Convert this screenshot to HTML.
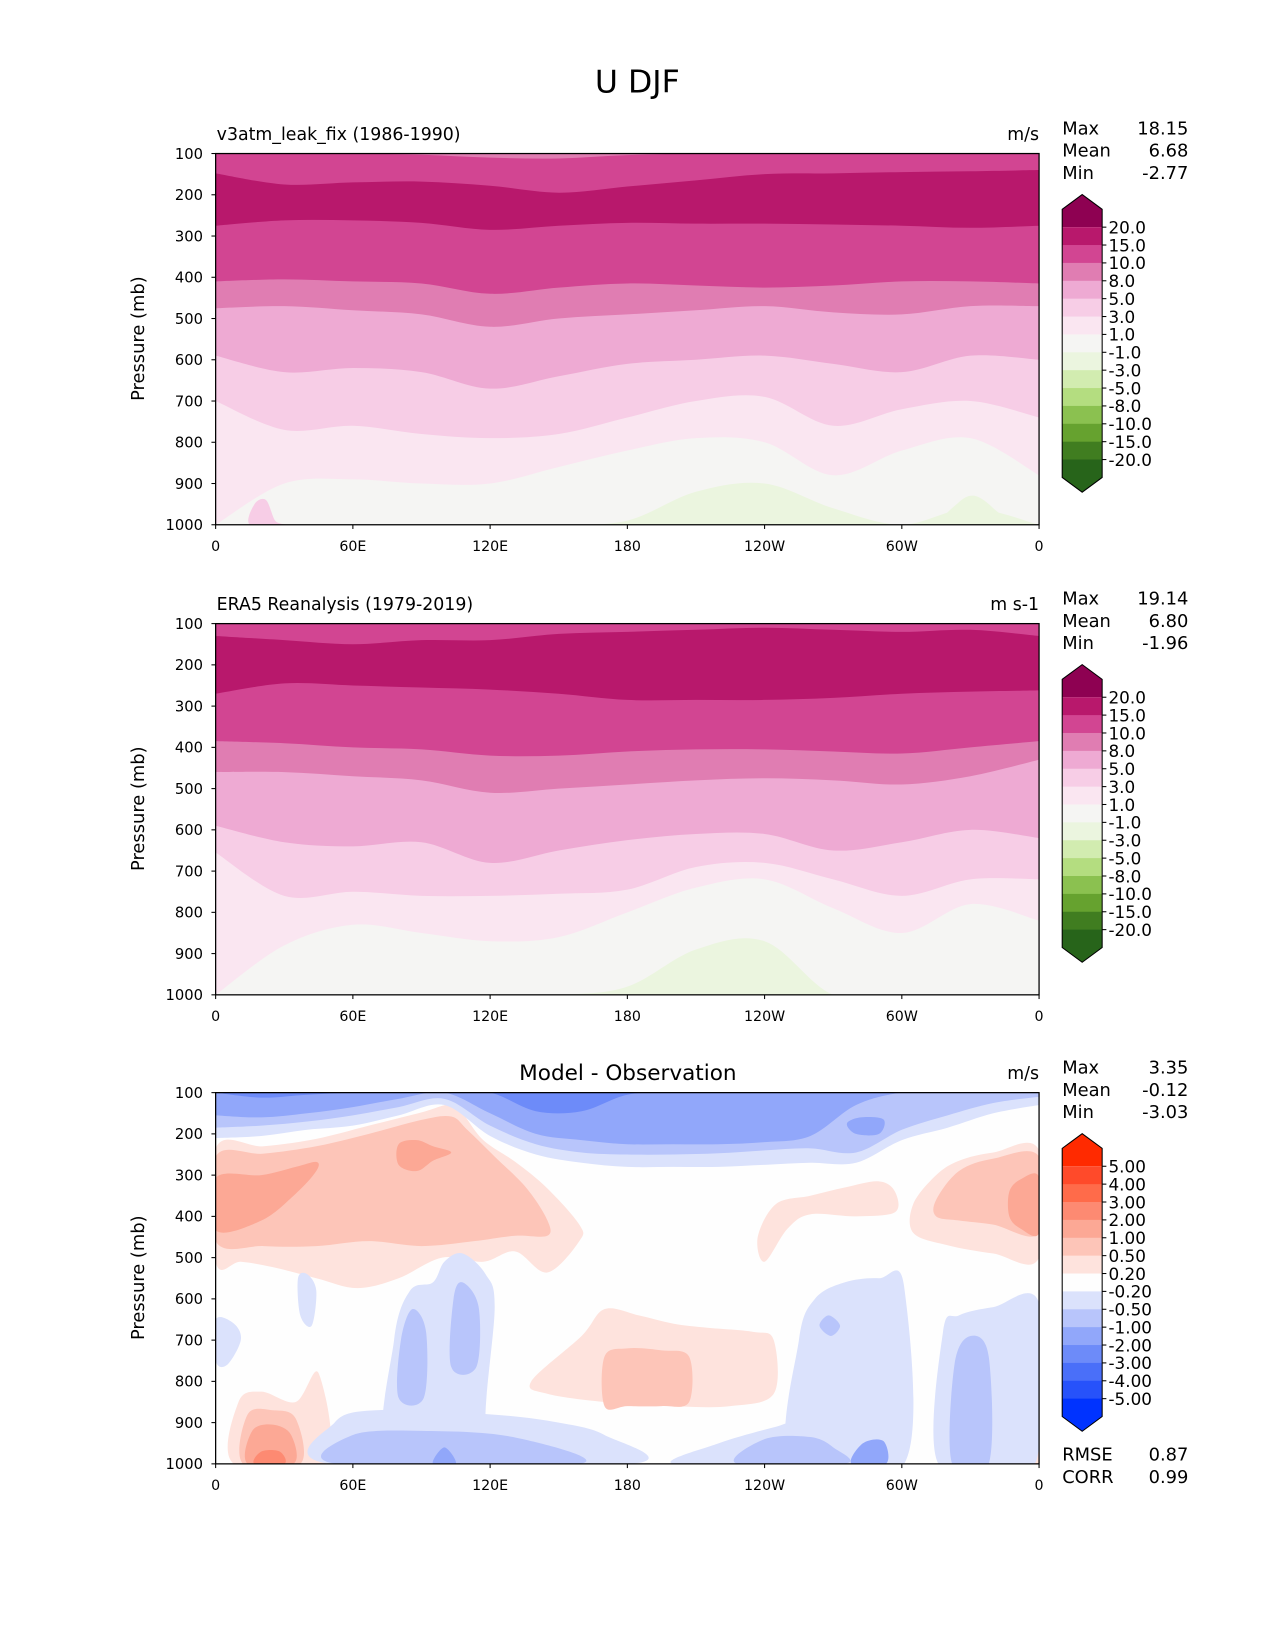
<!DOCTYPE html>
<html><head><meta charset="utf-8"><style>
html,body{margin:0;padding:0;background:#fff}
svg{display:block;font-family:"DejaVu Sans","Liberation Sans",sans-serif}
</style></head><body>
<svg id="fig" xmlns="http://www.w3.org/2000/svg" width="1275" height="1650" viewBox="0 0 1212.3 1569">
<rect x="0" y="0" width="1212.3" height="1569" fill="#fff"/>
<text x="606" y="88" font-size="30" text-anchor="middle">U DJF</text>
<g id="p1"></g>
<g id="p2"></g>
<g id="p3"></g>
</svg>
<script>
// ---------- data ----------
const LONS=[0,30,60,90,120,150,180,210,240,270,300,330,360];
const XTICKS=[0,60,120,180,240,300,360];
const XLABELS=["0","60E","120E","180","120W","60W","0"];
const PTICKS=[100,200,300,400,500,600,700,800,900,1000];
const FULL_COLORS=["#8e0152","#b8186c","#d24592","#e07db2","#eeaad3","#f7cde6","#fae6f1","#f5f5f3","#ebf5df","#d2ecb0","#b4dd80","#8bc150","#66a22f","#407d20","#27641a"];
const FULL_LABELS=["20.0","15.0","10.0","8.0","5.0","3.0","1.0","-1.0","-3.0","-5.0","-8.0","-10.0","-15.0","-20.0"];
const DIFF_COLORS=["#ff2a00","#ff4a2a","#ff6b4a","#fd8a72","#fca895","#fdc5b8","#fee3dd","#fefefe","#dbe2fc","#b8c5fb","#91a7fa","#6d8bf9","#4a6ff9","#2752fa","#0033ff"];
const DIFF_LABELS=["5.00","4.00","3.00","2.00","1.00","0.50","0.20","-0.20","-0.50","-1.00","-2.00","-3.00","-4.00","-5.00"];
// model panel: pressure of contour boundaries at LONS
const m_cap=[100,100,100,103,110,112,104,100,100,100,100,100,100];
const m_b15=[148,175,170,168,178,195,180,165,150,148,145,143,140];
const m_b10=[275,262,262,268,285,275,268,270,270,272,275,280,275];
const m_b8=[410,405,410,415,440,425,415,420,425,420,410,410,415];
const m_b5=[475,470,480,490,520,500,490,480,470,485,490,470,470];
const m_b3=[590,630,620,630,670,640,610,600,590,610,630,590,600];
const m_b1=[700,770,760,780,790,780,740,700,690,760,720,700,740];
const m_bm1=[1000,900,890,900,900,860,820,790,800,880,820,790,880];
const m_bm3=[1000,1000,1000,1000,1000,1000,990,920,900,960,1000,960,1000];
// obs panel
const e_b15=[130,140,150,140,140,125,120,115,110,115,120,115,130];
const e_b10=[270,245,250,255,260,270,285,285,285,280,270,265,262];
const e_b8=[385,390,400,405,420,420,410,405,405,410,415,400,385];
const e_b5=[460,460,470,480,510,500,490,480,475,480,490,470,430];
const e_b3=[590,630,640,630,680,650,625,610,610,650,630,600,620];
const e_b1=[655,760,750,760,760,755,745,690,680,720,760,720,720];
const e_bm1=[1000,880,830,850,870,860,800,740,720,790,850,780,820];
const e_bm3=[1000,1000,1000,1000,1000,1000,980,890,870,1000,1000,1000,1000];
// diff panel upper blue layer boundaries
const D_LONS=[0,20,40,60,80,100,120,140,160,180,200,220,240,260,280,300,320,340,360];
const d_b02=[210,205,190,180,155,130,205,250,270,280,280,280,275,270,270,215,185,150,130];
const d_b05=[185,180,170,155,135,115,180,225,245,250,250,247,240,235,245,190,155,125,110];
const d_b1=[155,160,150,135,115,100,150,200,215,225,225,225,220,205,130,100,100,100,100];
const d_b2=[100,112,105,100,100,100,100,145,145,105,100,100,100,100,100,100,100,100,100];
// diff blobs [lon, p]
const red02_a=[[0,235],[21,230],[44,212],[67,180],[90,148],[103,128],[108,150],[117,215],[131,268],[145,332],[159,420],[159,460],[145,536],[131,485],[117,510],[99,500],[80,550],[62,574],[44,550],[25,523],[11,510],[0,510]];
const red05_a=[[0,255],[21,248],[44,230],[67,200],[90,166],[103,158],[110,190],[122,255],[136,332],[145,409],[145,447],[131,447],[113,460],[90,472],[67,460],[44,472],[21,472],[0,460]];
const red1_a=[[0,307],[20,300],[35,280],[44,268],[44,290],[35,345],[20,410],[0,434]];
const red1_b=[[80,225],[88,215],[95,230],[103,245],[95,265],[88,290],[80,275]];
const red02_r=[[305,370],[315,300],[325,265],[340,245],[360,240],[360,500],[340,490],[320,470],[305,440]];
const red05_r=[[315,360],[325,290],[340,260],[360,255],[360,440],[340,420],[325,410],[315,400]];
const red1_r=[[347,340],[352,310],[360,305],[360,440],[352,430],[347,400]];
const red02_m=[[237,450],[245,370],[260,350],[275,330],[290,315],[297,340],[297,390],[280,400],[260,395],[250,430],[240,510]];
const red02_l=[[138,800],[160,690],[170,625],[185,640],[200,660],[215,670],[235,680],[244,700],[244,830],[225,860],[200,860],[170,850],[145,830]];
const red05_l=[[170,740],[180,720],[195,725],[207,740],[207,850],[195,860],[180,860],[170,860]];
const red02_s=[[8,1000],[10,850],[20,825],[35,850],[45,780],[48,1000]];
const red05_s=[[12,1000],[14,880],[25,870],[35,890],[37,1000]];
const red1_s=[[14,1000],[16,920],[25,905],[33,930],[34,1000]];
const red2_s=[[17,1000],[20,970],[28,970],[30,1000]];
const red02_e=[[347,1000],[350,960],[360,945],[360,1000]];
const blu02_a=[[76,1000],[78,700],[85,580],[95,560],[100,510],[108,490],[118,540],[122,620],[118,900],[125,1000]];
const blu02_b=[[50,1000],[52,900],[70,870],[120,880],[150,900],[170,930],[182,1000]];
const blu02_c=[[36,550],[40,540],[44,580],[42,665],[37,640]];
const blu02_d=[[252,1000],[255,700],[262,600],[275,560],[290,550],[301,570],[301,1000]];
const blu02_e=[[200,1000],[220,950],[245,910],[255,900],[255,1000]];
const blu02_f=[[316,1000],[318,680],[325,640],[340,620],[360,610],[360,960],[350,1000]];
const blu02_g=[[0,650],[8,660],[11,700],[5,760],[0,750]];
const blu05_a=[[80,840],[81,700],[86,625],[92,680],[91,840]];
const blu05_b=[[103,765],[104,600],[108,560],[115,620],[114,765]];
const blu05_c=[[322,1000],[323,760],[330,690],[338,740],[338,1000]];
const blu05_d=[[264,665],[268,640],[273,665],[269,690]];
const blu05_e=[[53,1000],[60,930],[90,920],[130,935],[159,1000]];
const blu05_f=[[228,1000],[240,940],[260,935],[270,960],[275,1000]];
const blu1_a=[[278,1000],[283,950],[292,945],[293,1000]];
const blu1_b=[[95,1000],[100,960],[105,1000]];
// stats
const STATS1=[["Max","18.15"],["Mean","6.68"],["Min","-2.77"]];
const STATS2=[["Max","19.14"],["Mean","6.80"],["Min","-1.96"]];
const STATS3=[["Max","3.35"],["Mean","-0.12"],["Min","-3.03"]];
const STATS3B=[["RMSE","0.87"],["CORR","0.99"]];

// ---------- drawing ----------
const NS="http://www.w3.org/2000/svg";
const X0=205,X1=988;
function X(lon){return X0+lon*(X1-X0)/360;}
function mkY(top){return p=>top+(p-100)*353/900;}
function el(tag,attrs,parent){const e=document.createElementNS(NS,tag);for(const k in attrs)e.setAttribute(k,attrs[k]);parent.appendChild(e);return e;}
function crOpen(pts){let d=`M${pts[0][0]},${pts[0][1]}`;for(let i=0;i<pts.length-1;i++){const p0=pts[Math.max(i-1,0)],p1=pts[i],p2=pts[i+1],p3=pts[Math.min(i+2,pts.length-1)];d+=` C${p1[0]+(p2[0]-p0[0])/6},${p1[1]+(p2[1]-p0[1])/6} ${p2[0]-(p3[0]-p1[0])/6},${p2[1]-(p3[1]-p1[1])/6} ${p2[0]},${p2[1]}`;}return d;}
function crClosed(pts){const n=pts.length;let d=`M${pts[0][0]},${pts[0][1]}`;for(let i=0;i<n;i++){const p0=pts[(i-1+n)%n],p1=pts[i],p2=pts[(i+1)%n],p3=pts[(i+2)%n];d+=` C${p1[0]+(p2[0]-p0[0])/6},${p1[1]+(p2[1]-p0[1])/6} ${p2[0]-(p3[0]-p1[0])/6},${p2[1]-(p3[1]-p1[1])/6} ${p2[0]},${p2[1]}`;}return d+"Z";}
function fillBelow(g,Y,lons,arr,color,name){const pts=lons.map((l,i)=>[X(l),Y(arr[i])]);const p=el('path',{d:crOpen(pts)+` L${X(360)},${Y(1000)} L${X(0)},${Y(1000)}Z`,fill:color},g);

}
function fillAbove(g,Y,lons,arr,color,name){const pts=lons.map((l,i)=>[X(l),Y(arr[i])]);const p=el('path',{d:crOpen(pts)+` L${X(360)},${Y(100)} L${X(0)},${Y(100)}Z`,fill:color},g);

}
function blob(g,Y,arr,color,name){const p=el('path',{d:crClosed(arr.map(q=>[X(q[0]),Y(q[1])])),fill:color},g);

}

function axes(g,top,left,right,id){
  const Y=mkY(top);
  el('rect',{x:X0,y:top,width:X1-X0,height:353,fill:'none',stroke:'#000','stroke-width':1.2},g);
  PTICKS.forEach(p=>{el('line',{x1:X0-4,x2:X0,y1:Y(p),y2:Y(p),stroke:'#000'},g);
    const t=el('text',{x:X0-12,y:Y(p)+5,'font-size':14,'text-anchor':'end'},g);t.textContent=p;
    
    });
  XTICKS.forEach((l,i)=>{el('line',{x1:X(l),x2:X(l),y1:top+353,y2:top+357,stroke:'#000'},g);
    const t=el('text',{x:X(l),y:top+378,'font-size':13.5,'text-anchor':'middle'},g);t.textContent=XLABELS[i];
    
    });
  const yl=el('text',{x:0,y:0,'font-size':17,'text-anchor':'middle',transform:`translate(137,${top+176}) rotate(-90)`},g);yl.textContent='Pressure (mb)';
  
  
  if(left){const t=el('text',{x:X0+1,y:top-13,'font-size':16.5},g);t.textContent=left;
    
    }
  const u=el('text',{x:X1,y:top-13,'font-size':16.5,'text-anchor':'end'},g);u.textContent=right;
  
  
}
function stats(g,y0,rows){rows.forEach((r,i)=>{const a=el('text',{x:1010,y:y0+i*21,'font-size':17},g);a.textContent=r[0];
  
  
  const b=el('text',{x:1130,y:y0+i*21,'font-size':17,'text-anchor':'end'},g);b.textContent=r[1];
  
  });}
function colorbar(g,off,colors,labels){
  const cb=el('g',{},g);
  
  
  const xl=1010,xr=1048,b0=216+off,step=17;
  const nb=labels.length;
  // top triangle + first segment
  el('path',{d:`M${xl},${b0-17} L${(xl+xr)/2},${b0-31} L${xr},${b0-17} L${xr},${b0} L${xl},${b0}Z`,fill:colors[0]},cb);
  for(let i=1;i<nb;i++)el('rect',{x:xl,y:b0+(i-1)*step,width:xr-xl,height:step+0.5,fill:colors[i]},cb);
  const bl=b0+(nb-1)*step;
  el('path',{d:`M${xl},${bl} L${xr},${bl} L${xr},${bl+17} L${(xl+xr)/2},${bl+31} L${xl},${bl+17}Z`,fill:colors[nb]},cb);
  el('path',{d:`M${xl},${b0-17} L${(xl+xr)/2},${b0-31} L${xr},${b0-17} L${xr},${bl+17} L${(xl+xr)/2},${bl+31} L${xl},${bl+17}Z`,fill:'none',stroke:'#000','stroke-width':1},cb);
  labels.forEach((s,i)=>{const y=b0+i*step;el('line',{x1:xr,x2:xr+4,y1:y,y2:y,stroke:'#000'},cb);
    const t=el('text',{x:xr+6,y:y+6,'font-size':16},cb);t.textContent=s;
    
    });
}
function clip(svgG,top,id){const cp=el('clipPath',{id:id},svgG);el('rect',{x:X0,y:top,width:X1-X0,height:353},cp);const g=el('g',{'clip-path':`url(#${id})`},svgG);return g;}

// Panel 1
(function(){const g0=document.getElementById('p1'),top=146,Y=mkY(top);const g=clip(g0,top,'c1');
  el('rect',{x:X0,y:top,width:X1-X0,height:353,fill:FULL_COLORS[2]},g);
  fillAbove(g,Y,LONS,m_cap,FULL_COLORS[3],'top-sliver');
  fillBelow(g,Y,LONS,m_b15,FULL_COLORS[1],'band-15-20');
  fillBelow(g,Y,LONS,m_b10,FULL_COLORS[2],'band-10-15');
  fillBelow(g,Y,LONS,m_b8,FULL_COLORS[3],'band-8-10');
  fillBelow(g,Y,LONS,m_b5,FULL_COLORS[4],'band-5-8');
  fillBelow(g,Y,LONS,m_b3,FULL_COLORS[5],'band-3-5');
  fillBelow(g,Y,LONS,m_b1,FULL_COLORS[6],'band-1-3');
  fillBelow(g,Y,LONS,m_bm1,FULL_COLORS[7],'band-m1-1');
  fillBelow(g,Y,LONS,m_bm3,FULL_COLORS[8],'band-m3-m1');
  blob(g,Y,[[15,1000],[17,950],[22,940],[26,990],[30,1000]],FULL_COLORS[5],'pink-blob');
  blob(g,Y,[[318,1000],[325,945],[332,930],[340,960],[345,1000]],FULL_COLORS[8],'green-blob');
  axes(g0,top,'v3atm_leak_fix (1986-1990)','m/s');
  stats(g0,128,STATS1);colorbar(g0,0,FULL_COLORS,FULL_LABELS);})();
// Panel 2
(function(){const g0=document.getElementById('p2'),top=593,Y=mkY(top);const g=clip(g0,top,'c2');
  el('rect',{x:X0,y:top,width:X1-X0,height:353,fill:FULL_COLORS[2]},g);
  fillBelow(g,Y,LONS,e_b15,FULL_COLORS[1],'band-15-20');
  fillBelow(g,Y,LONS,e_b10,FULL_COLORS[2],'band-10-15');
  fillBelow(g,Y,LONS,e_b8,FULL_COLORS[3],'band-8-10');
  fillBelow(g,Y,LONS,e_b5,FULL_COLORS[4],'band-5-8');
  fillBelow(g,Y,LONS,e_b3,FULL_COLORS[5],'band-3-5');
  fillBelow(g,Y,LONS,e_b1,FULL_COLORS[6],'band-1-3');
  fillBelow(g,Y,LONS,e_bm1,FULL_COLORS[7],'band-m1-1');
  fillBelow(g,Y,LONS,e_bm3,FULL_COLORS[8],'band-m3-m1');
  axes(g0,top,'ERA5 Reanalysis (1979-2019)','m s-1');
  stats(g0,575,STATS2);colorbar(g0,447,FULL_COLORS,FULL_LABELS);})();
// Panel 3
(function(){const g0=document.getElementById('p3'),top=1039,Y=mkY(top);const g=clip(g0,top,'c3');
  el('rect',{x:X0,y:top,width:X1-X0,height:353,fill:DIFF_COLORS[7]},g);
  blob(g,Y,red02_a,DIFF_COLORS[6],'red-02-left');
  blob(g,Y,red05_a,DIFF_COLORS[5],'red-05-left');
  blob(g,Y,red1_a,DIFF_COLORS[4],'red-1-left');
  blob(g,Y,red1_b,DIFF_COLORS[4],'red-1-center');
  blob(g,Y,red02_r,DIFF_COLORS[6],'red-02-right');
  blob(g,Y,red05_r,DIFF_COLORS[5],'red-05-right');
  blob(g,Y,red1_r,DIFF_COLORS[4],'red-1-right');
  blob(g,Y,red02_m,DIFF_COLORS[6],'red-02-mid');
  blob(g,Y,red02_l,DIFF_COLORS[6],'red-02-lower');
  blob(g,Y,red05_l,DIFF_COLORS[5],'red-05-lower');
  blob(g,Y,red02_s,DIFF_COLORS[6],'red-02-surface');
  blob(g,Y,red05_s,DIFF_COLORS[5],'red-05-surface');
  blob(g,Y,red1_s,DIFF_COLORS[4],'red-1-surface');
  blob(g,Y,red2_s,DIFF_COLORS[3],'red-2-surface');
  blob(g,Y,red02_e,DIFF_COLORS[6],'red-02-edge');
  [blu02_a,blu02_b,blu02_c,blu02_d,blu02_e,blu02_f,blu02_g].forEach(b=>blob(g,Y,b,DIFF_COLORS[8],'blue-02-blob'));
  [blu05_a,blu05_b,blu05_c,blu05_d,blu05_e,blu05_f].forEach(b=>blob(g,Y,b,DIFF_COLORS[9],'blue-05-blob'));
  [blu1_a,blu1_b].forEach(b=>blob(g,Y,b,DIFF_COLORS[10],'blue-1-blob'));
  fillAbove(g,Y,D_LONS,d_b02,DIFF_COLORS[8],'blue-top-02');
  fillAbove(g,Y,D_LONS,d_b05,DIFF_COLORS[9],'blue-top-05');
  fillAbove(g,Y,D_LONS,d_b1,DIFF_COLORS[10],'blue-top-1');
  fillAbove(g,Y,D_LONS,d_b2,DIFF_COLORS[11],'blue-top-2');
  blob(g,Y,[[276,175],[282,160],[292,165],[290,200],[280,200]],DIFF_COLORS[10],'blue-jet-blob');
  axes(g0,top,null,'m/s');
  const t=el('text',{x:597,y:1027,'font-size':20.5,'text-anchor':'middle'},g0);t.textContent='Model - Observation';
  
  
  stats(g0,1021,STATS3);stats(g0,1389,STATS3B);colorbar(g0,893,DIFF_COLORS,DIFF_LABELS);})();
</script>
</body></html>
